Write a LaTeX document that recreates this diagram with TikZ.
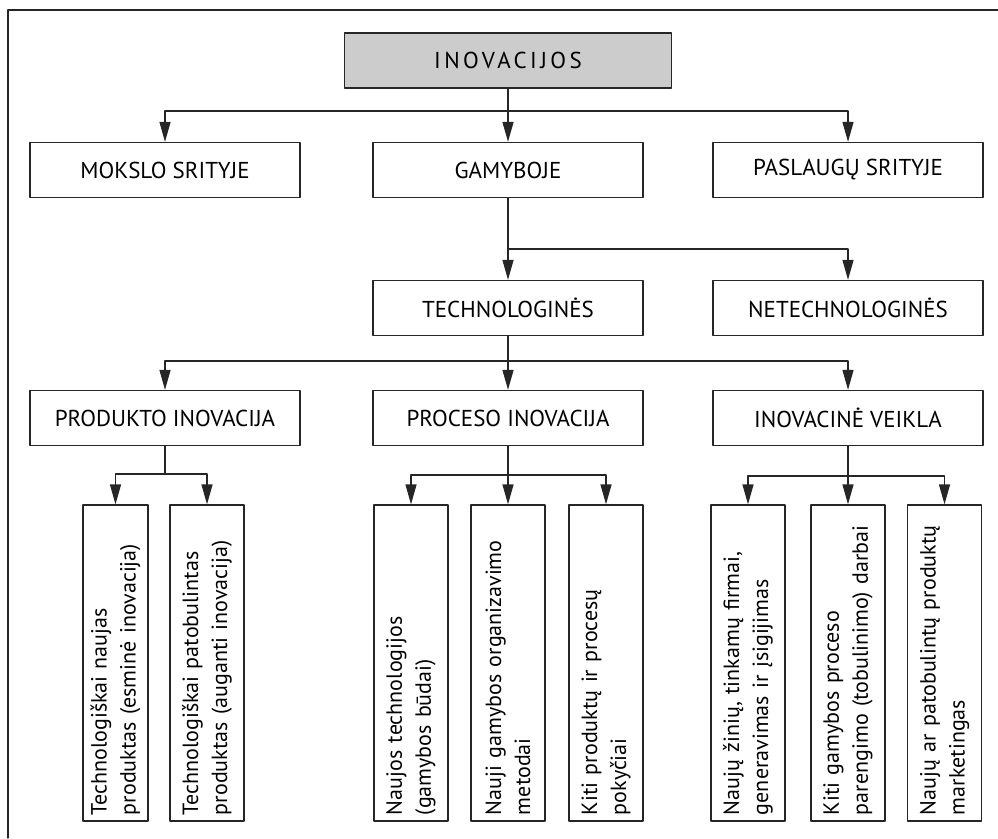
\documentclass[tikz,border=0pt]{standalone}
\usepackage{fontspec}
\setmainfont{PT Sans}
\usetikzlibrary{arrows.meta}
\hyphenpenalty=10000

\tikzset{
  box/.style={draw=black!85,line width=1.3pt,minimum width=270pt,minimum height=55pt,
    inner sep=0pt,font=\fontsize{23}{27}\selectfont},
  leaf/.style={draw=black!85,line width=1.3pt,rotate=90,minimum width=316pt,minimum height=74pt,
    text width=304pt,inner xsep=6pt,inner ysep=0pt,align=left,font=\fontsize{22}{29}\selectfont},
  down/.style={draw=black!85,line width=1.3pt,-{Triangle[length=20pt,width=11pt]}}
}

\begin{document}
\begin{tikzpicture}[x=1pt,y=-1pt,line cap=round,line join=round]
  \useasboundingbox (0,0) rectangle (998,838);
  \draw[black!85,line width=1.3pt] (8,838) -- (8,10) -- (998,10);

  \node[box,fill=black!20,minimum width=327pt] (ino) at (508,60.5)
    {\addfontfeatures{LetterSpace=15}INOVACIJOS};
  \node[box] (mok) at (165,170) {MOKSLO SRITYJE};
  \node[box] (gam) at (508,170) {GAMYBOJE};
  \node[box] (pas) at (848,170) {PASLAUGŲ SRITYJE};
  \node[box] (tech) at (508,308) {TECHNOLOGINĖS};
  \node[box] (netech) at (848,308) {NETECHNOLOGINĖS};
  \node[box] (prod) at (165,418) {PRODUKTO INOVACIJA};
  \node[box] (proc) at (508,418) {PROCESO INOVACIJA};
  \node[box] (veik) at (848,418) {INOVACINĖ VEIKLA};

  \node[leaf,minimum height=65pt] (l1) at (115.5,663)
    {Technologiškai naujas\\produktas (esminė inovacija)};
  \node[leaf] (l2) at (207,663) {Technologiškai patobulintas\\produktas (auganti inovacija)};
  \node[leaf] (l3) at (411,663) {Naujos technologijos\\(gamybos būdai)};
  \node[leaf] (l4) at (508,663) {Nauji gamybos organizavimo\\metodai};
  \node[leaf] (l5) at (606,663) {Kiti produktų ir procesų\\pokyčiai};
  \node[leaf] (l6) at (748,663) {Naujų žinių, tinkamų firmai,\\generavimas ir įsigijimas};
  \node[leaf] (l7) at (848,663) {Kiti gamybos proceso\\parengimo (tobulinimo) darbai};
  \node[leaf] (l8) at (944.5,663) {Naujų ar patobulintų produktų\\marketingas};

  \coordinate (j1) at (508,111);
  \coordinate (j2) at (508,249);
  \coordinate (j3) at (508,361);
  \coordinate (j4) at (165,474);
  \coordinate (j5) at (508,475);
  \coordinate (j6) at (848,476);

  \draw[down] (ino) -- (gam);
  \draw[down] (j1) -| (mok.north);
  \draw[down] (j1) -| (pas.north);
  \draw[down] (gam) -- (tech);
  \draw[down] (j2) -| (netech.north);
  \draw[down] (tech) -- (proc);
  \draw[down] (j3) -| (prod.north);
  \draw[down] (j3) -| (veik.north);

  \draw[down,-] (prod) -- (j4);
  \draw[down] (j4) -| (l1.east);
  \draw[down] (j4) -| (l2.east);
  \draw[down] (proc) -- (l4.east);
  \draw[down] (j5) -| (l3.east);
  \draw[down] (j5) -| (l5.east);
  \draw[down] (veik) -- (l7.east);
  \draw[down] (j6) -| (l6.east);
  \draw[down] (j6) -| (l8.east);
\end{tikzpicture}
\end{document}
